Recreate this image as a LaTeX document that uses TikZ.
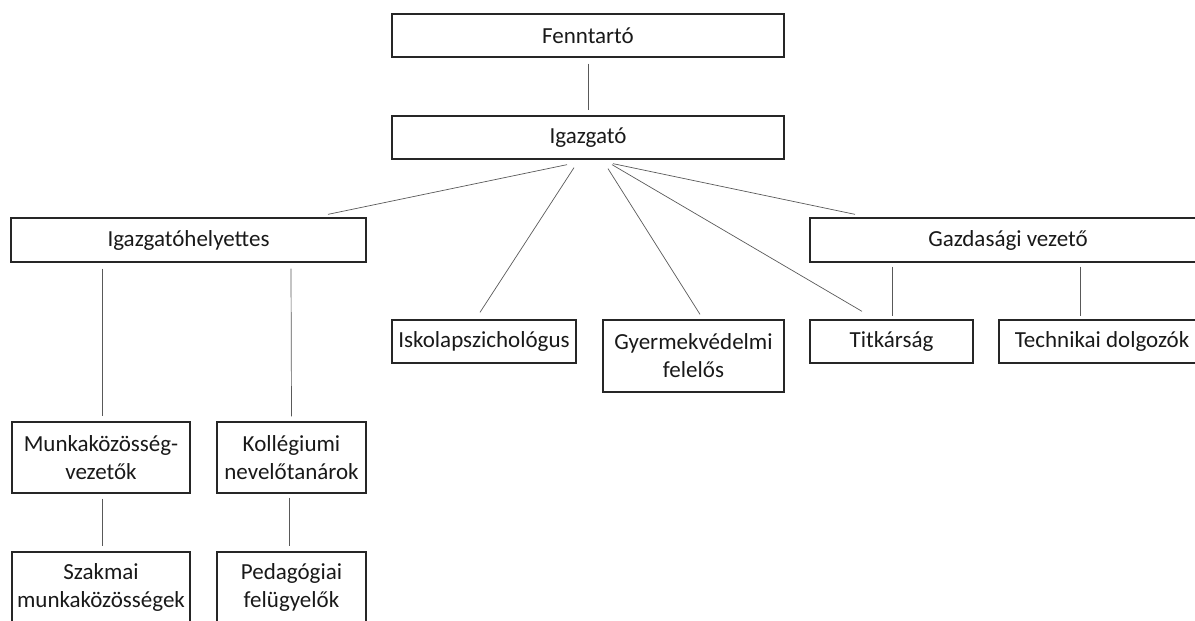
\documentclass[tikz,border=0pt]{standalone}
\usepackage{fontspec}
\setmainfont{Carlito}
\usetikzlibrary{calc}
\newcommand\boxfont{\fontsize{23}{28}\selectfont}

\begin{document}
\begin{tikzpicture}[x=1pt, y=-1pt,
    box/.style={draw=black!85, line width=1.3pt, inner sep=0pt, align=center,
      font=\boxfont, text=black!90},
    link/.style={draw=black!65, line width=0.7pt}]
  \useasboundingbox (0,0) rectangle (1195,621);
  \clip (0,0) rectangle (1195,621);

  % felso szint
  \node[box, minimum width=392, minimum height=43] (fenn) at (588,35.5) {Fenntartó};
  \node[box, minimum width=392, minimum height=43] (igaz) at (588,137.5) {Igazgató};

  % masodik szint
  \node[box, minimum width=355, minimum height=44] (helyettes) at (188.5,240) {Igazgatóhelyettes};
  \node[box, minimum width=396, minimum height=44] (gazd) at (1008,240) {Gazdasági vezető};

  \node[box, minimum width=184, minimum height=43] (isk) at (484,341.5) {Iskolapszichológus};
  \node[box, minimum width=181, minimum height=72] (gyer) at (693.5,356) {Gyermekvédelmi\\felelős};
  \node[box, minimum width=163, minimum height=43] (titk) at (891.5,341.5) {Titkárság};
  \node[box, minimum width=206, minimum height=43] (tech) at (1102,341.5) {Technikai dolgozók};

  % also szintek
  \node[box, minimum width=178, minimum height=71] (munk) at (101,457.5) {Munkaközösség-\\vezetők};
  \node[box, minimum width=149, minimum height=71] (koll) at (291.5,457.5) {Kollégiumi\\nevelőtanárok};
  \node[box, minimum width=178, minimum height=71] (szak) at (101,587.5) {Szakmai\\munkaközösségek};
  \node[box, minimum width=149, minimum height=71] (peda) at (291.5,587.5) {Pedagógiai\\felügyelők};

  % vonalak
  \draw[link] ($(fenn.south)+(0,6)$) -- ($(igaz.north)+(0,-5)$);
  \draw[link] ($(igaz.south)+(-21,5)$) -- ($(helyettes.north)+(139.5,-3)$);
  \draw[link] ($(igaz.south)+(-14,8)$) -- ($(isk.north)+(-4,-7)$);
  \draw[link] ($(igaz.south)+(20,9)$) -- ($(gyer.north)+(6.5,-5)$);
  \draw[link] ($(igaz.south)+(24,5)$) -- ($(titk.north)+(-29.5,-8)$);
  \draw[link] ($(igaz.south)+(25,4)$) -- ($(gazd.north)+(-153,-3)$);

  \draw[link] ($(helyettes.south)+(-86.5,6)$) -- ($(munk.north)+(1,-5)$);
  \draw[link] ($(helyettes.south)+(102.5,6)$) -- ($(koll.north)+(0,-5)$);
  \draw[link] ($(munk.south)+(1,5)$) -- ($(szak.north)+(1,-5)$);
  \draw[link] ($(koll.south)+(-2.5,4)$) -- ($(peda.north)+(-2.5,-5)$);

  \draw[link] ($(gazd.south)+(-116,4)$) -- ($(titk.north)+(0.5,-3)$);
  \draw[link] ($(gazd.south)+(72,4)$) -- ($(tech.north)+(-22,-3)$);
\end{tikzpicture}
\end{document}
